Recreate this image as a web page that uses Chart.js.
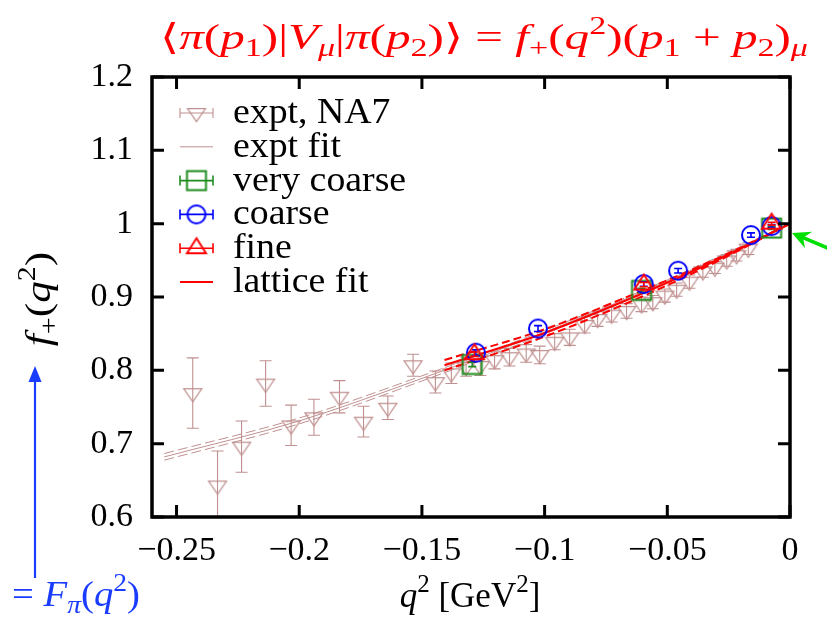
<!DOCTYPE html>
<html><head><meta charset="utf-8">
<script src="https://cdn.jsdelivr.net/npm/chart.js@4.4.1/dist/chart.umd.min.js"></script>
<style>html,body{margin:0;padding:0;background:#fff;}#wrap{width:827px;height:625px;position:relative;}</style>
</head><body><div id="wrap"><canvas id="c"></canvas></div>
<script>
// ---------- data ----------
const xTickValues = [-0.25, -0.2, -0.15, -0.1, -0.05, 0];
const yTickValues = [0.6, 0.7, 0.8, 0.9, 1, 1.1, 1.2];

const exptQ2 = [-0.2434,-0.2333,-0.2235,-0.2137,-0.2033,-0.1940,-0.1836,-0.1738,-0.1639,-0.1536,-0.1445,-0.1380,-0.1320,-0.1262,-0.1204,-0.1143,-0.1075,-0.1020,-0.0959,-0.0898,-0.0837,-0.0784,-0.0727,-0.0666,-0.0605,-0.0559,-0.0510,-0.0462,-0.0410,-0.0355,-0.0306,-0.0258,-0.0218,-0.0170];
const exptF  = [0.769,0.643,0.696,0.782,0.725,0.736,0.764,0.730,0.749,0.807,0.784,0.796,0.805,0.806,0.814,0.818,0.823,0.821,0.839,0.845,0.862,0.870,0.876,0.881,0.890,0.893,0.902,0.910,0.921,0.935,0.940,0.950,0.957,0.966];
const exptErr= [0.048,0.047,0.035,0.031,0.0275,0.0245,0.022,0.021,0.016,0.015,0.015,0.014,0.013,0.013,0.012,0.012,0.012,0.012,0.011,0.011,0.011,0.010,0.010,0.010,0.010,0.009,0.009,0.009,0.009,0.008,0.008,0.008,0.008,0.008];

const exptFitQ2  = [-0.255, -0.2, -0.15, -0.1, -0.05, 0];
const exptFitF   = [0.682, 0.731, 0.789, 0.852, 0.922, 1.0];
const exptFitErr = [0.0045, 0.004, 0.0035, 0.0025, 0.0015, 0];

const latFitQ2  = [-0.1408, -0.1, -0.06, -0.03, 0];
const latFitF   = [0.807, 0.851, 0.905, 0.950, 1.0];
const latFitErr = [0.007, 0.005, 0.004, 0.002, 0];

const vcQ2 = [-0.1295, -0.0605, -0.0075];
const vcF  = [0.808, 0.909, 0.994];
const vcErr= [0.003, 0.003, 0.002];

const coarseQ2 = [-0.128, -0.1027, -0.0596, -0.0456, -0.0159, -0.0075];
const coarseF  = [0.824, 0.857, 0.9176, 0.9358, 0.9844, 0.9967];
const coarseErr= [0.004, 0.004, 0.003, 0.003, 0.003, 0.002];

const fineQ2 = [-0.1286, -0.0596, -0.0075];
const fineF  = [0.822, 0.917, 1.0];
const fineErr= [0.003, 0.003, 0.002];

const legendLabels = ['expt, NA7', 'expt fit', 'very coarse', 'coarse', 'fine', 'lattice fit'];

// ---------- styles ----------
const FONT = "'Liberation Serif','DejaVu Serif',serif";
const C_EXPT = '#c09090', C_GREEN = '#1e8c1e', C_BLUE = '#0000ff', C_RED = '#ff0000';

function marker(kind, color, lw) {
  const S = 30, c = document.createElement('canvas'); c.width = S; c.height = S;
  const g = c.getContext('2d'); g.strokeStyle = color; g.lineWidth = lw; const m = S / 2;
  g.beginPath();
  if (kind === 'tdown') { const w = 18, h = 13; g.moveTo(m - w/2, m - h/3); g.lineTo(m + w/2, m - h/3); g.lineTo(m, m + 2*h/3); g.closePath(); }
  else if (kind === 'tup') { const w = 19, h = 15; g.moveTo(m, m - 2*h/3); g.lineTo(m + w/2, m + h/3); g.lineTo(m - w/2, m + h/3); g.closePath(); }
  else if (kind === 'circ') { g.arc(m, m, 9, 0, Math.PI * 2); }
  else if (kind === 'sq') { g.rect(m - 9.5, m - 9.5, 19, 19); }
  g.stroke(); return c;
}
const mkExpt = marker('tdown', C_EXPT, 1.2), mkVC = marker('sq', C_GREEN, 2), mkC = marker('circ', C_BLUE, 2), mkF = marker('tup', C_RED, 2);

const pts = (xs, ys) => xs.map((x, i) => ({ x, y: ys[i] }));
const band = (xs, ys, es, s) => xs.map((x, i) => ({ x, y: ys[i] + s * es[i] }));

const lineDs = (data, color, w, dash) => ({ data, showLine: true, borderColor: color, borderWidth: w, borderDash: dash || [], pointRadius: 0, fill: false, cubicInterpolationMode: 'monotone' });
const ptDs = (data, color, img, errs, ew, cap) => ({ data, showLine: false, borderColor: color, backgroundColor: 'rgba(0,0,0,0)', pointStyle: img, pointRadius: 9, errs, errWidth: ew, capHalf: cap });

const datasets = [
  ptDs(pts(fineQ2, fineF), C_RED, mkF, fineErr, 1.6, 4),
  ptDs(pts(coarseQ2, coarseF), C_BLUE, mkC, coarseErr, 1.6, 4),
  ptDs(pts(vcQ2, vcF), C_GREEN, mkVC, vcErr, 1.6, 4),
  lineDs(pts(latFitQ2, latFitF), C_RED, 2.2),
  lineDs(band(latFitQ2, latFitF, latFitErr, 1), C_RED, 2, [8, 4]),
  lineDs(band(latFitQ2, latFitF, latFitErr, -1), C_RED, 2, [8, 4]),
  ptDs(pts(exptQ2, exptF), C_EXPT, mkExpt, exptErr, 1.1, 6),
  lineDs(pts(exptFitQ2, exptFitF), C_EXPT, 1),
  lineDs(band(exptFitQ2, exptFitF, exptFitErr, 1), C_EXPT, 1, [10, 4]),
  lineDs(band(exptFitQ2, exptFitF, exptFitErr, -1), C_EXPT, 1, [10, 4]),
];

// ---------- rich text helper ----------
function segFont(s, size) { return (s.i ? 'italic ' : '') + Math.round(size * (s.k ? 0.7 : 1)) + 'px ' + FONT; }
function segShift(s, size) { return s.k === 'sub' ? 0.2 * size : (s.k === 'sup' ? -0.42 * size : 0); }
function richWidth(ctx, segs, size) { let w = 0; for (const s of segs) { ctx.font = segFont(s, size); w += ctx.measureText(s.t).width; } return w; }
function drawRich(ctx, segs, x, y, size, color, sx) {
  ctx.save(); ctx.translate(x, y); ctx.scale(sx || 1, 1);
  ctx.fillStyle = color; ctx.textBaseline = 'alphabetic'; ctx.textAlign = 'left';
  let cx = 0;
  for (const s of segs) { ctx.font = segFont(s, size); ctx.fillText(s.t, cx, segShift(s, size)); cx += ctx.measureText(s.t).width; }
  ctx.restore();
}
const R = t => ({ t }), I = t => ({ t, i: true }), SB = (t, i) => ({ t, i, k: 'sub' }), SP = (t, i) => ({ t, i, k: 'sup' });
const titleSegs = [R('\u27E8'), I('\u03C0'), R('('), I('p'), SB('1'), R(')'), R('|'), I('V'), SB('\u03BC', true), R('|'), I('\u03C0'), R('('), I('p'), SB('2'), R(')'), R('\u27E9'), R(' = '), I('f'), SB('+'), R('('), I('q'), SP('2'), R(')'), R('('), I('p'), SB('1'), R(' + '), I('p'), SB('2'), R(')'), SB('\u03BC', true)];
const yTitleSegs = [I('f'), SB('+'), R('('), I('q'), SP('2'), R(')')];
const xTitleSegs = [I('q'), SP('2'), R(' [GeV'), SP('2'), R(']')];
const fpiSegs = [R('= '), I('F'), SB('\u03C0', true), R('('), I('q'), SP('2'), R(')')];

// ---------- plugins ----------
const errorBars = {
  id: 'errorBars',
  afterDatasetDraw(chart, args) {
    const ds = chart.data.datasets[args.index]; if (!ds.errs) return;
    const ctx = chart.ctx, ys = chart.scales.y, a = chart.chartArea;
    ctx.save(); ctx.beginPath(); ctx.rect(a.left, a.top, a.right - a.left, a.bottom - a.top); ctx.clip();
    ctx.strokeStyle = ds.borderColor; ctx.lineWidth = ds.errWidth;
    args.meta.data.forEach((p, i) => {
      const v = ds.data[i].y, e = ds.errs[i];
      const yt = ys.getPixelForValue(v + e), yb = ys.getPixelForValue(v - e), c = ds.capHalf;
      ctx.beginPath();
      ctx.moveTo(p.x, yt); ctx.lineTo(p.x, yb);
      ctx.moveTo(p.x - c, yt); ctx.lineTo(p.x + c, yt);
      ctx.moveTo(p.x - c, yb); ctx.lineTo(p.x + c, yb);
      ctx.stroke();
    });
    ctx.restore();
  }
};

const frame = {
  id: 'frame',
  afterDatasetsDraw(chart) {
    const ctx = chart.ctx, a = chart.chartArea, xs = chart.scales.x, ys = chart.scales.y, L = 12;
    ctx.save(); ctx.strokeStyle = '#000'; ctx.lineWidth = 3;
    ctx.beginPath();
    xTickValues.forEach(v => { const px = xs.getPixelForValue(v); ctx.moveTo(px, a.bottom); ctx.lineTo(px, a.bottom - L); ctx.moveTo(px, a.top); ctx.lineTo(px, a.top + L); });
    yTickValues.forEach(v => { const py = ys.getPixelForValue(v); ctx.moveTo(a.left, py); ctx.lineTo(a.left + L, py); ctx.moveTo(a.right, py); ctx.lineTo(a.right - L, py); });
    ctx.stroke();
    ctx.lineWidth = 3.5; ctx.strokeRect(a.left, a.top, a.right - a.left, a.bottom - a.top);
    ctx.restore();
  }
};

const decor = {
  id: 'decor',
  afterDraw(chart) {
    const ctx = chart.ctx;
    // legend
    const sym = [
      { c: C_EXPT, img: mkExpt, eb: true, w: 1.1 }, { c: C_EXPT, line: 1 },
      { c: C_GREEN, img: mkVC, eb: true, w: 1.6 }, { c: C_BLUE, img: mkC, eb: true, w: 1.6 },
      { c: C_RED, img: mkF, eb: true, w: 1.6 }, { c: C_RED, line: 2.2 }
    ];
    const x0 = 180, x1 = 213, xm = (x0 + x1) / 2;
    legendLabels.forEach((lab, i) => {
      const cy = 113 + i * 33.8, s = sym[i];
      ctx.save(); ctx.strokeStyle = s.c;
      ctx.lineWidth = s.line || s.w;
      ctx.beginPath(); ctx.moveTo(x0, cy); ctx.lineTo(x1, cy);
      if (s.eb) { ctx.moveTo(x0, cy - 5); ctx.lineTo(x0, cy + 5); ctx.moveTo(x1, cy - 5); ctx.lineTo(x1, cy + 5); }
      ctx.stroke();
      if (s.img) ctx.drawImage(s.img, xm - s.img.width / 2, cy - s.img.height / 2);
      ctx.translate(233, cy + 10); ctx.scale(1.08, 1);
      ctx.fillStyle = '#000'; ctx.font = '35px ' + FONT; ctx.textBaseline = 'alphabetic'; ctx.textAlign = 'left';
      ctx.fillText(lab, 0, 0);
      ctx.restore();
    });
    // title
    const tw = richWidth(ctx, titleSegs, 36);
    drawRich(ctx, titleSegs, 160, 49, 36, C_RED, 648 / tw);
    // y title (rotated)
    const yw = richWidth(ctx, yTitleSegs, 36) * 1.2;
    ctx.save(); ctx.translate(50, 299); ctx.rotate(-Math.PI / 2);
    drawRich(ctx, yTitleSegs, -yw / 2, 0, 36, '#000', 1.2); ctx.restore();
    // x title
    const xw = richWidth(ctx, xTitleSegs, 35);
    drawRich(ctx, xTitleSegs, 470 - xw / 2, 607, 35, '#000', 1);
    // F_pi label
    const fw = richWidth(ctx, fpiSegs, 35);
    drawRich(ctx, fpiSegs, 12, 606, 35, '#1a3cff', 128 / fw);
    // blue arrow
    ctx.save(); ctx.strokeStyle = '#1a3cff'; ctx.fillStyle = '#1a3cff'; ctx.lineWidth = 2.2;
    ctx.beginPath(); ctx.moveTo(35, 578); ctx.lineTo(35, 380); ctx.stroke();
    ctx.beginPath(); ctx.moveTo(35, 366); ctx.lineTo(41.5, 382); ctx.lineTo(28.5, 382); ctx.closePath(); ctx.fill();
    ctx.restore();
    // green arrow
    const tip = { x: 792, y: 233 }, tail = { x: 830, y: 249 };
    let dx = tip.x - tail.x, dy = tip.y - tail.y; const dl = Math.hypot(dx, dy); dx /= dl; dy /= dl;
    ctx.save(); ctx.strokeStyle = '#00e000'; ctx.fillStyle = '#00e000'; ctx.lineWidth = 3.5;
    ctx.beginPath(); ctx.moveTo(tail.x, tail.y); ctx.lineTo(tip.x - dx * 12, tip.y - dy * 12); ctx.stroke();
    const bx = tip.x - dx * 18, by = tip.y - dy * 18, nx = -dy, ny = dx;
    ctx.beginPath(); ctx.moveTo(tip.x, tip.y); ctx.lineTo(bx + nx * 9, by + ny * 9); ctx.lineTo(tip.x - dx * 12, tip.y - dy * 12); ctx.lineTo(bx - nx * 9, by - ny * 9); ctx.closePath(); ctx.fill();
    ctx.restore();
  }
};

const fmt = v => { const r = Math.round(v * 1000) / 1000; return (r < 0 ? '\u2212' : '') + String(Math.abs(r)); };

new Chart(document.getElementById('c'), {
  type: 'scatter',
  data: { datasets },
  options: {
    responsive: true, maintainAspectRatio: false, animation: false, events: [],
    layout: { padding: { left: 0, right: 37, top: 77, bottom: 0 } },
    plugins: { legend: { display: false }, tooltip: { enabled: false } },
    scales: {
      x: {
        type: 'linear', min: -0.26, max: 0,
        afterBuildTicks: s => { s.ticks = xTickValues.map(v => ({ value: v })); },
        afterFit: s => { s.height = 108; },
        grid: { display: false, drawTicks: false }, border: { display: false },
        ticks: { autoSkip: false, maxRotation: 0, padding: 14, color: '#000', font: { family: FONT, size: 34 }, callback: v => fmt(v) }
      },
      y: {
        type: 'linear', min: 0.6, max: 1.2,
        afterBuildTicks: s => { s.ticks = yTickValues.map(v => ({ value: v })); },
        afterFit: s => { s.width = 152; },
        grid: { display: false, drawTicks: false }, border: { display: false },
        ticks: { autoSkip: false, padding: 19, color: '#000', font: { family: FONT, size: 34 }, callback: v => fmt(v) }
      }
    }
  },
  plugins: [errorBars, frame, decor]
});
</script>
</body></html>
